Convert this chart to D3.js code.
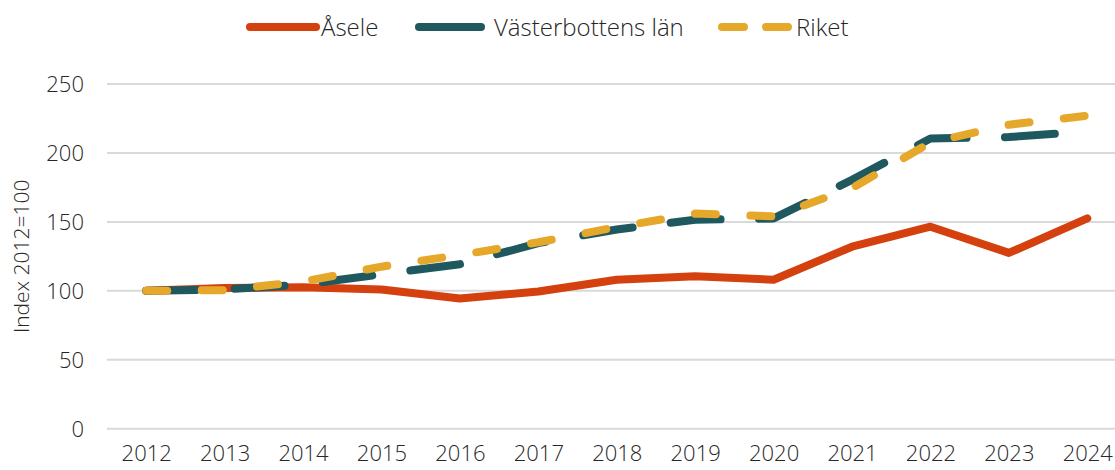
<!DOCTYPE html>
<html>
<head>
<meta charset="utf-8">
<script src="https://cdn.jsdelivr.net/npm/d3@7"></script>
<style>
    body { margin: 0; background: white; }
    text { font-family: 'Open Sans', Roboto, sans-serif; font-weight: 300; fill: #262626; }
</style>
</head>
<body>
<script>
let years = ['2012', '2013', '2014', '2015', '2016', '2017', '2018', '2019', '2020', '2021', '2022', '2023', '2024']
let asele = [100, 102, 102.5, 101, 94.5, 99.5, 108, 110.5, 108, 132, 146.5, 127.5, 152.5]
let vasterbotten = [100, 101, 104.5, 112, 119.3, 134.6, 144.5, 151.5, 152.5, 180.5, 210.5, 211.5, 215.5]
let riket = [100, 100.5, 106.7, 117.5, 126, 135.2, 146.2, 156, 154, 174.5, 207.5, 220.5, 227]
let yTicks = [0, 50, 100, 150, 200, 250]
let seriesNames = ['Åsele', 'Västerbottens län', 'Riket']

let width = 1115
let height = 470
let margin = { top: 84, bottom: 41, left: 107, right: -11.5 }

let svg = d3.select('body')
    .append('svg')
        .attr('width', width)
        .attr('height', height)

let x = d3.scalePoint()
    .domain(years)
    .range([margin.left, width - margin.right])
    .padding(0.5)

let y = d3.scaleLinear()
    .domain([0, 250])
    .range([height - margin.bottom - 0.3, margin.top])

// grid
svg.append('g')
    .selectAll('line')
    .data(yTicks)
    .enter()
    .append('line')
        .attr('x1', margin.left)
        .attr('x2', width)
        .attr('y1', d => y(d))
        .attr('y2', d => y(d))
        .attr('stroke', '#d9d9d9')
        .attr('stroke-width', 2)

let yAxis = svg.append('g')
    .attr('transform', 'translate(84,0)')
    .call(d3.axisLeft(y).tickValues(yTicks).tickSize(0).tickPadding(0))
yAxis.select('.domain').remove()
yAxis.selectAll('text')
    .attr('font-size', '22px')
    .attr('font-family', null)
    .attr('dy', '0.35em')

let xAxis = svg.append('g')
    .attr('transform', 'translate(0,' + (height - margin.bottom) + ')')
    .call(d3.axisBottom(x).tickSize(0).tickPadding(0))
xAxis.select('.domain').remove()
xAxis.selectAll('text')
    .attr('font-size', '22px')
    .attr('font-family', null)
    .attr('y', 32)
    .attr('dy', '0')

svg.append('text')
    .attr('transform', 'translate(29,' + y(125) + ') rotate(-90)')
    .attr('text-anchor', 'middle')
    .attr('font-size', '21px')
    .text('Index 2012=100')

let line = d3.line()
    .x((d, i) => x(years[i]))
    .y(d => y(d))

let series = [
    { values: asele, color: '#d5400f', dash: null },
    { values: vasterbotten, color: '#1f585e', dash: '50,38.4' },
    { values: riket, color: '#e6a82a', dash: '21,34.5' }
]

svg.append('g')
    .selectAll('path')
    .data(series)
    .enter()
    .append('path')
        .attr('d', d => line(d.values))
        .attr('fill', 'none')
        .attr('stroke', d => d.color)
        .attr('stroke-width', 8)
        .attr('stroke-linecap', 'round')
        .attr('stroke-linejoin', 'round')
        .attr('stroke-dasharray', d => d.dash)

// legend
let legendItems = [
    { x1: 250, x2: 316, textX: 321, dash: null },
    { x1: 419, x2: 481, textX: 494, dash: null },
    { x1: 722, x2: 792, textX: 796, dash: '22,22' }
]

let legend = svg.append('g')
    .selectAll('g')
    .data(legendItems)
    .enter()
    .append('g')

legend.append('line')
    .attr('x1', d => d.x1)
    .attr('x2', d => d.x2)
    .attr('y1', 27)
    .attr('y2', 27)
    .attr('stroke', (d, i) => series[i].color)
    .attr('stroke-width', 8)
    .attr('stroke-linecap', 'round')
    .attr('stroke-dasharray', d => d.dash)

legend.append('text')
    .attr('x', d => d.textX)
    .attr('y', 35.5)
    .attr('font-size', '24px')
    .text((d, i) => seriesNames[i])
</script>
</body>
</html>
